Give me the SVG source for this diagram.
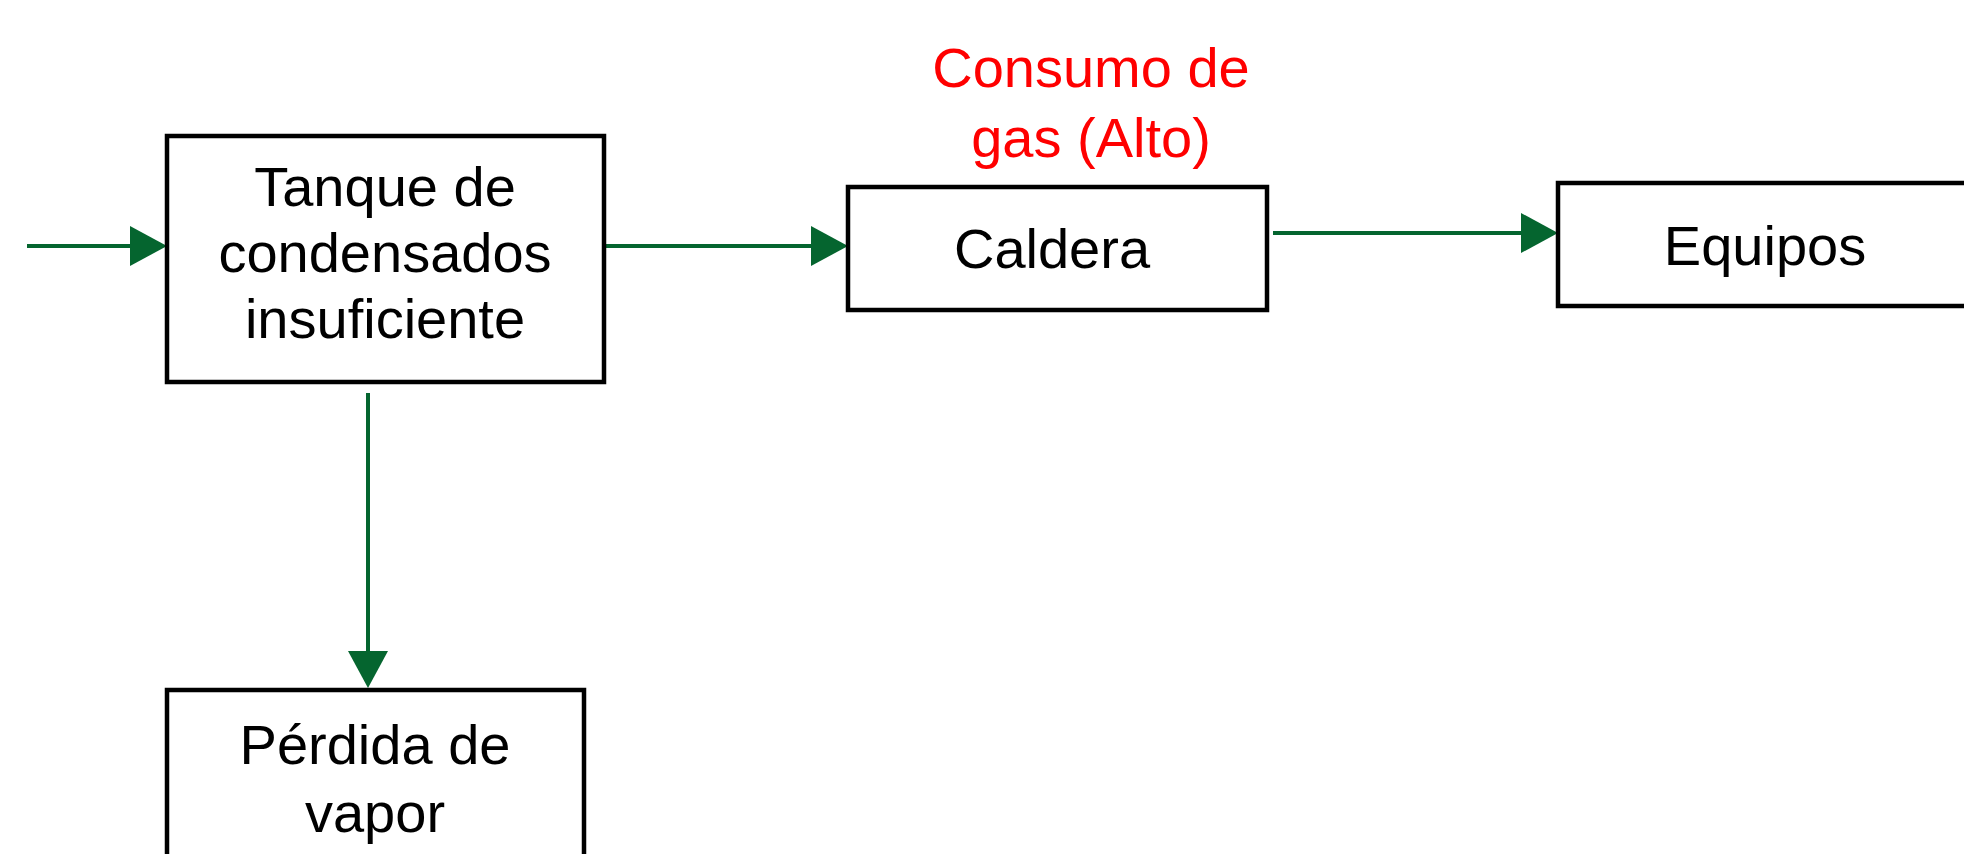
<svg xmlns="http://www.w3.org/2000/svg" width="1964" height="854" viewBox="0 0 1964 854">
  <defs>
    <style>
      .box { fill: #ffffff; stroke: #000000; stroke-width: 4.5; }
      .lbl { font-family: "Liberation Sans", Arial, sans-serif; font-size: 56px; fill: #000000; text-anchor: middle; }
      .red { fill: #ff0000; }
      .conn { stroke: #05652f; stroke-width: 4; fill: none; marker-end: url(#ah); }
    </style>
    <marker id="ah" markerUnits="userSpaceOnUse" markerWidth="37" markerHeight="40" refX="0" refY="20" orient="auto" viewBox="0 0 37 40">
      <path d="M0,0 L37,20 L0,40 Z" fill="#05652f"/>
    </marker>
  </defs>
  <rect width="1964" height="854" fill="#ffffff"/>

  <g id="connectors">
    <line class="conn" x1="27" y1="246" x2="130" y2="246"/>
    <line class="conn" x1="605" y1="246" x2="811" y2="246"/>
    <line class="conn" x1="1273" y1="233" x2="1521" y2="233"/>
    <line class="conn" x1="368" y1="393" x2="368" y2="651"/>
  </g>

  <g id="tanque">
    <rect class="box" x="167" y="136" width="437" height="246"/>
    <text class="lbl" x="385" y="206">Tanque de</text>
    <text class="lbl" x="385" y="272">condensados</text>
    <text class="lbl" x="385" y="338">insuficiente</text>
  </g>

  <g id="caldera">
    <rect class="box" x="848" y="187" width="419" height="123"/>
    <text class="lbl" x="1052" y="268">Caldera</text>
  </g>

  <g id="consumo-label">
    <text class="lbl red" x="1091" y="87">Consumo de</text>
    <text class="lbl red" x="1091" y="157">gas (Alto)</text>
  </g>

  <g id="equipos">
    <rect class="box" x="1558" y="183" width="440" height="123"/>
    <text class="lbl" x="1765" y="265">Equipos</text>
  </g>

  <g id="perdida">
    <rect class="box" x="167" y="690" width="417" height="200"/>
    <text class="lbl" x="375" y="764">Pérdida de</text>
    <text class="lbl" x="375" y="832">vapor</text>
  </g>
</svg>
